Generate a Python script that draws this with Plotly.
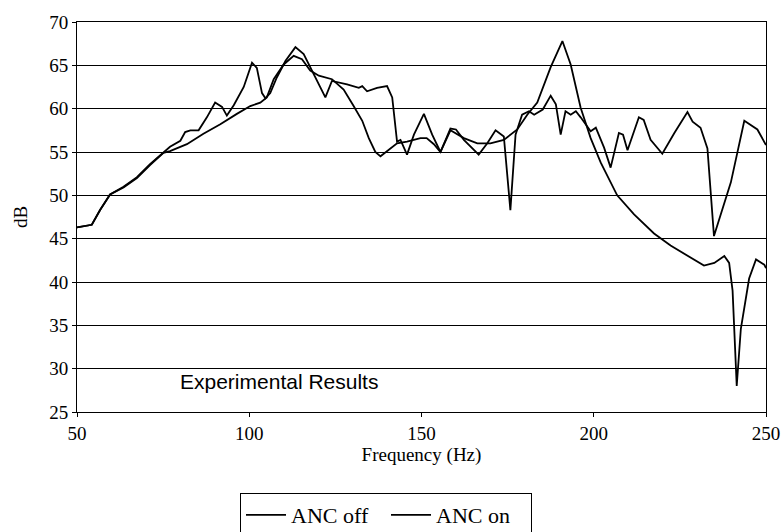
import plotly.graph_objects as go

# Curve with the plateau near 62 dB and jagged high-frequency part
off_freq = [50.0, 51.4, 54.3, 56.7, 59.6, 63.5, 67.4, 71.2, 75.1, 77.0, 80.0, 81.4, 82.9, 85.3,
            87.7, 90.1, 92.1, 93.5, 95.5, 98.4, 100.8, 102.2, 103.7, 104.7, 106.1, 108.0, 110.5,
            113.4, 115.8, 118.2, 120.2, 122.1, 124.0, 128.4, 131.8, 132.8, 134.2, 137.1, 140.0,
            141.5, 142.9, 143.9, 145.8, 147.8, 150.7, 153.1, 155.5, 158.4, 160.0, 162.3, 166.6,
            169.1, 171.5, 173.9, 175.8, 177.3, 179.2, 181.2, 182.7, 185.2, 187.5, 189.0, 190.4,
            191.8, 193.3, 194.8, 196.2, 199.1, 200.6, 203.0, 204.9, 207.3, 208.5, 209.8, 213.1,
            214.5, 216.5, 219.9, 223.4, 227.2, 228.7, 231.0, 233.0, 234.9, 239.8, 243.7, 247.5,
            250.0]
off_db = [46.3, 46.4, 46.6, 48.3, 50.1, 51.0, 52.1, 53.6, 55.0, 55.6, 56.3, 57.3, 57.5, 57.5,
          59.0, 60.7, 60.2, 59.2, 60.4, 62.5, 65.3, 64.7, 61.8, 61.2, 61.8, 63.6, 65.5,
          67.1, 66.3, 64.4, 62.8, 61.3, 63.2, 62.8, 62.4, 62.6, 62.0, 62.4, 62.6,
          61.3, 56.2, 56.4, 54.7, 57.0, 59.4, 57.0, 55.0, 57.7, 57.6, 56.4, 54.7,
          56.0, 57.5, 56.8, 48.3, 57.0, 59.3, 59.7, 59.3, 59.9, 61.5, 60.5, 57.0,
          59.7, 59.3, 59.7, 59.0, 57.4, 57.8, 55.5, 53.2, 57.2, 57.0, 55.2, 59.0,
          58.7, 56.4, 54.8, 57.2, 59.6, 58.5, 57.8, 55.4, 45.3, 51.5, 58.6, 57.6,
          55.8]

# Smoother curve with the big peak near 190 Hz and fall-off above 200 Hz
on_freq = [50.0, 51.4, 54.3, 56.7, 59.6, 63.5, 67.4, 71.2, 75.1, 77.0, 81.9, 86.7, 91.6, 96.4,
           100.3, 103.2, 105.1, 107.1, 110.0, 112.9, 115.3, 117.7, 120.2, 124.0, 127.4, 130.3,
           132.8, 134.7, 136.6, 138.1, 140.5, 142.9, 145.8, 149.7, 151.5, 153.6, 155.5, 158.4,
           162.3, 166.2, 170.0, 173.9, 177.8, 180.7, 183.6, 187.5, 190.9, 193.3, 196.2, 199.1,
           202.0, 206.8, 211.7, 217.5, 222.3, 227.2, 232.0, 235.0, 237.9, 239.3, 240.3, 241.5,
           242.7, 245.1, 247.1, 249.5, 250.0]
on_db = [46.3, 46.4, 46.6, 48.3, 50.1, 50.9, 52.0, 53.5, 54.9, 55.1, 55.9, 57.1, 58.2, 59.4,
         60.3, 60.7, 61.3, 63.4, 65.1, 66.1, 65.7, 64.4, 63.8, 63.4, 62.2, 60.3,
         58.6, 56.6, 55.0, 54.5, 55.2, 56.0, 56.2, 56.6, 56.6, 55.9, 55.0, 57.5,
         56.6, 56.0, 56.0, 56.4, 57.6, 59.3, 60.7, 64.8, 67.8, 65.1, 60.1, 56.6,
         53.8, 50.0, 47.8, 45.6, 44.2, 43.0, 41.9, 42.2, 43.0, 42.2, 39.0, 28.0,
         34.6, 40.4, 42.6, 42.0, 41.6]

x_ticks = [50, 100, 150, 200, 250]
x_tick_text = ["50", "100", "150", "200", "250"]
y_ticks = [25, 30, 35, 40, 45, 50, 55, 60, 65, 70]

serif = "Liberation Serif"

fig = go.Figure()
fig.add_trace(go.Scatter(x=off_freq, y=off_db, mode="lines", name="ANC off",
                         line=dict(color="black", width=1.8)))
fig.add_trace(go.Scatter(x=on_freq, y=on_db, mode="lines", name="ANC on",
                         line=dict(color="black", width=1.8)))

fig.add_annotation(x=79.3, y=28.5, xref="x", yref="y", text="Experimental Results",
                   showarrow=False, xanchor="left", yanchor="middle",
                   font=dict(family="Liberation Sans", size=21, color="black"))

fig.update_layout(
    width=781, height=532,
    margin=dict(l=77, r=15, t=22, b=120, autoexpand=False),
    paper_bgcolor="white", plot_bgcolor="white",
    font=dict(family=serif, size=19, color="black"),
    showlegend=True,
    legend=dict(orientation="h", x=(240 - 77) / 689, xanchor="left",
                y=-(493 - 412) / 390, yanchor="top",
                bordercolor="black", borderwidth=1, bgcolor="white",
                font=dict(family=serif, size=22, color="black"),
                itemwidth=40, entrywidth=90, tracegroupgap=0),
    xaxis=dict(range=[50, 250], tickvals=x_ticks, ticktext=x_tick_text,
               showgrid=False, zeroline=False, showline=True, linecolor="black",
               linewidth=1, mirror=True, ticks="outside", ticklen=4, tickcolor="black",
               automargin=False,
               title=dict(text="Frequency (Hz)", standoff=2,
                          font=dict(family=serif, size=19, color="black")),
               tickfont=dict(family=serif, size=19, color="black")),
    yaxis=dict(range=[25, 70], tickvals=y_ticks,
               showgrid=True, gridcolor="black", gridwidth=1,
               zeroline=False, showline=True, linecolor="black", linewidth=1, mirror=True,
               ticks="outside", ticklen=4, tickcolor="black",
               automargin=False,
               title=dict(text="dB", standoff=16,
                          font=dict(family=serif, size=19, color="black")),
               tickfont=dict(family=serif, size=19, color="black")),
)

fig.write_html("out.html", config={"displayModeBar": False},
               post_script="document.body.style.margin='0';document.body.style.overflow='hidden';")
